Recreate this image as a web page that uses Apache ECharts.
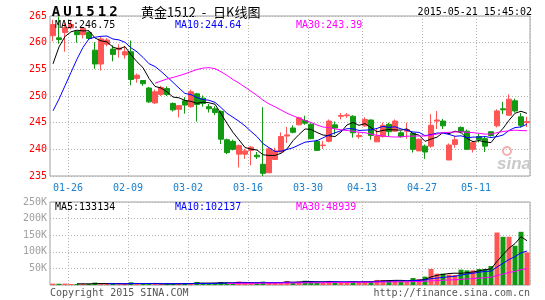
<!DOCTYPE html>
<html><head><meta charset="utf-8">
<script src="https://cdn.jsdelivr.net/npm/echarts@6/dist/echarts.min.js"></script>
<style>html,body{margin:0;padding:0;background:#fff}#c{width:545px;height:300px}</style>
</head><body><div id="c"></div>
<script>
// ---- data ----
const dates = ['01-21','01-22','01-23','01-26','01-27','01-28','01-29','01-30',
 '02-02','02-03','02-04','02-05','02-06','02-09','02-10','02-11','02-12','02-13','02-16','02-17','02-25','02-26','02-27',
 '03-02','03-03','03-04','03-05','03-06','03-09','03-10','03-11','03-12','03-13','03-16','03-17','03-18','03-19','03-20',
 '03-23','03-24','03-25','03-26','03-27','03-30','03-31',
 '04-01','04-02','04-03','04-07','04-08','04-09','04-10','04-13','04-14','04-15','04-16','04-17','04-20','04-21','04-22','04-23','04-24',
 '04-27','04-28','04-29','04-30','05-04','05-05','05-06','05-07','05-08','05-11','05-12','05-13','05-14','05-15','05-18','05-19','05-20','05-21'];
const tickLabels = ['01-26','02-09','03-02','03-16','03-30','04-13','04-27','05-11'];

const opens  = [261.3,260.9,261.9,262.8,262.1,261.5,261.9,258.6,256.0,259.7,
                258.8,258.7,257.7,258.3,253.3,252.9,251.5,248.7,250.3,251.4,
                248.6,247.5,249.1,248.0,250.4,249.6,248.0,247.6,247.1,241.8,
                241.5,239.1,239.1,239.8,238.9,237.2,235.6,238.1,239.5,242.5,
                244.0,244.6,245.4,244.7,241.5,240.7,241.5,244.6,246.2,246.3,
                246.2,242.4,244.4,245.5,241.4,242.4,244.7,243.4,243.1,243.4,
                243.0,239.7,240.6,240.6,245.3,245.3,238.0,240.9,244.1,243.4,
                240.0,242.4,242.0,243.3,244.4,247.6,246.4,249.1,246.1,245.0];
const closes = [263.4,260.6,262.8,263.4,261.5,262.7,260.8,256.0,260.7,260.5,
                257.8,259.0,258.3,253.1,253.9,252.3,248.9,250.8,251.6,250.3,
                247.4,248.2,248.3,250.8,248.4,248.6,247.6,246.9,241.9,239.4,
                240.0,240.7,239.7,240.4,238.6,235.5,240.1,239.7,242.4,242.7,
                243.2,245.9,244.9,242.0,239.8,240.8,245.3,244.0,246.35,246.45,
                243.1,242.6,245.6,242.6,242.5,244.5,243.3,245.3,242.4,243.7,
                240.0,241.9,239.5,244.5,245.5,244.4,240.8,241.8,243.3,240.0,
                241.3,241.8,240.6,242.6,247.2,247.4,249.4,247.2,244.5,245.2];
const lows   = [260.3,259.8,258.3,262.5,260.0,260.8,260.6,255.1,254.8,259.3,
                256.5,257.2,257.0,252.0,252.5,251.9,248.7,248.5,250.0,250.0,
                247.1,246.0,246.7,247.8,245.2,248.0,246.9,246.4,241.0,239.1,
                239.8,236.6,238.2,237.0,238.2,235.0,235.6,238.0,239.5,241.2,
                243.0,244.5,244.6,241.9,239.8,240.1,241.3,242.8,245.6,245.9,
                242.2,242.0,244.2,241.8,241.4,242.2,242.4,243.4,242.2,242.0,
                239.4,239.7,238.2,240.3,243.8,243.8,238.0,240.3,243.0,240.0,
                239.4,241.3,239.5,242.4,244.1,246.6,246.3,246.9,244.1,244.2];
const highs  = [264.3,264.9,263.7,264.1,262.2,262.9,262.1,260.1,261.2,260.9,
                259.5,259.7,259.4,260.4,254.2,253.0,251.7,251.2,251.9,251.8,
                248.8,248.3,249.8,251.2,250.6,250.1,248.5,248.1,247.3,242.0,
                241.8,240.9,240.1,240.6,239.5,247.9,240.3,240.3,243.2,244.2,
                244.5,246.1,246.3,244.9,241.8,241.6,245.6,245.2,246.8,246.8,
                246.4,243.2,246.0,245.6,244.0,245.0,245.0,245.6,243.4,245.0,
                243.1,242.0,240.9,246.6,247.2,245.7,241.1,242.5,244.3,243.7,
                241.6,242.9,242.4,243.4,247.5,248.9,250.3,249.5,246.8,246.1];
// closes of the 12 sessions before the first visible one (inferred from where the MA lines start)
const histCloses = [239.5,238.5,238.7,238.6,237.8,238.4,236.5,240.7,244.8,253.0,259.0,260.0];

const volumes = [4100,3900,4200,3200,3100,3300,3400,7200,4300,3200,
                 3900,3300,3100,8100,4200,3300,4100,3800,3200,3100,
                 3900,4200,5100,4900,9200,5200,4100,6100,9100,7000,
                 6200,10200,6100,6900,5200,10100,6800,6100,9000,12100,
                 7100,10200,12900,10100,8200,6100,12300,9200,7100,9600,
                 10100,9200,11100,11200,15200,15100,14100,14200,11100,9300,
                 21100,17200,25300,48200,34100,34300,31200,30100,46200,44100,
                 44200,48100,48300,57200,158100,145200,145300,118100,160200,98200];

const maLabels    = ['MA5:246.75','MA10:244.64','MA30:243.39'];
const volMaLabels = ['MA5:133134','MA10:102137','MA30:48939'];
const maColors = ['#000000','#0000ff','#ff00ff'];
const maPeriods = [5,10,30];

// ---- derived ----
function movingAvg(arr, n, skip){
  const out=[];
  for(let i=skip;i<arr.length;i++){
    if(i<n-1){out.push('-');continue;}
    let s=0; for(let j=i-n+1;j<=i;j++) s+=arr[j];
    out.push(+(s/n).toFixed(3));
  }
  return out;
}
const allCloses = histCloses.concat(closes);
const priceMA = maPeriods.map(n=>movingAvg(allCloses,n,histCloses.length));
const volMA = maPeriods.map(n=>movingAvg(volumes,n,0));
const kData = opens.map((o,i)=>[o,closes[i],lows[i],highs[i]]);
const UP='#ff5555', DOWN='#119911';
const mono='DejaVu Sans Mono';
const isTick=(i,v)=>tickLabels.indexOf(v)>=0;
const dotted={color:'#b4b4b4',type:[1,2],width:1};

const graphics=[];
'AU1512'.split('').forEach((ch,k)=>graphics.push({type:'text',x:56+11.5*k,y:12,
  style:{text:ch,font:'bold 14px '+mono,fill:'#000',align:'center',verticalAlign:'middle'}}));
graphics.push({type:'text',x:141,y:12,style:{text:'黄金1512',font:'13px "Noto Sans CJK SC"',fill:'#000',verticalAlign:'middle'}});
graphics.push({type:'text',x:204,y:12,style:{text:'-',font:'13px "Noto Sans CJK SC"',fill:'#000',align:'center',verticalAlign:'middle'}});
graphics.push({type:'text',x:213,y:12,style:{text:'日K线图',font:'13px "Noto Sans CJK SC"',fill:'#000',verticalAlign:'middle'}});
graphics.push({type:'text',x:532,y:12,style:{text:'2015-05-21 15:45:02',font:'10px '+mono,fill:'#000',align:'right',verticalAlign:'middle'}});
const legendX=[55,175,296];
maLabels.forEach((t,k)=>graphics.push({type:'text',x:legendX[k],y:25,z:100,style:{text:t,font:'10px '+mono,fill:maColors[k],verticalAlign:'middle'}}));
volMaLabels.forEach((t,k)=>graphics.push({type:'text',x:legendX[k],y:207,z:100,style:{text:t,font:'10px '+mono,fill:maColors[k],verticalAlign:'middle'}}));
graphics.push({type:'text',x:50,y:293,style:{text:'Copyright 2015 SINA.COM',font:'10px '+mono,fill:'#555',verticalAlign:'middle'}});
graphics.push({type:'text',x:530,y:293,style:{text:'http://finance.sina.com.cn',font:'10px '+mono,fill:'#555',align:'right',verticalAlign:'middle'}});
graphics.push({type:'circle',shape:{cx:507,cy:151,r:4},style:{fill:'none',stroke:'#f3b0b0',lineWidth:2}});
graphics.push({type:'text',x:514,y:164,style:{text:'sina',font:'italic bold 17px "Liberation Sans"',fill:'#c9c9c9',align:'center',verticalAlign:'middle'}});

const chart = echarts.init(document.getElementById('c'),null,{renderer:'canvas'});
chart.setOption({
  animation:false,
  grid:[{left:50,right:15,top:16,height:160,show:true,borderColor:'#a0a0a0',borderWidth:1},
        {left:50,right:15,top:202,height:83,show:true,borderColor:'#a0a0a0',borderWidth:1}],
  xAxis:[
    {type:'category',data:dates,gridIndex:0,boundaryGap:true,axisLine:{show:false},axisTick:{show:false},
     axisLabel:{interval:isTick,color:'#1a80d0',fontFamily:mono,fontSize:10,margin:7,padding:[0,6,0,0]},
     splitLine:{show:true,interval:isTick,lineStyle:dotted}},
    {type:'category',data:dates,gridIndex:1,boundaryGap:true,axisLine:{show:false},axisTick:{show:false},
     axisLabel:{show:false},splitLine:{show:true,interval:isTick,lineStyle:dotted}}
  ],
  yAxis:[
    {type:'value',gridIndex:0,min:235,max:265,interval:5,axisLine:{show:false},axisTick:{show:false},
     axisLabel:{color:'#ff0000',fontFamily:mono,fontSize:10,margin:3},splitLine:{lineStyle:dotted}},
    {type:'value',gridIndex:1,min:0,max:250000,interval:50000,axisLine:{show:false},axisTick:{show:false},
     axisLabel:{color:'#a0a0a0',fontFamily:mono,fontSize:10,margin:3,formatter:v=>v?(v/1000)+'K':''},splitLine:{lineStyle:dotted}}
  ],
  series:[
    {type:'candlestick',xAxisIndex:0,yAxisIndex:0,data:kData,barWidth:5,
     itemStyle:{color:UP,color0:DOWN,borderColor:UP,borderColor0:DOWN,borderWidth:1}},
    ...priceMA.map((d,k)=>({type:'line',xAxisIndex:0,yAxisIndex:0,data:d,symbol:'none',smooth:false,
      lineStyle:{color:maColors[k],width:1},z:5})),
    {type:'bar',xAxisIndex:1,yAxisIndex:1,data:volumes,barWidth:5,
     itemStyle:{color:p=>closes[p.dataIndex]>=opens[p.dataIndex]?UP:DOWN}},
    ...volMA.map((d,k)=>({type:'line',xAxisIndex:1,yAxisIndex:1,data:d,symbol:'none',smooth:false,
      lineStyle:{color:maColors[k],width:1},z:5}))
  ],
  graphic:graphics
});
</script></body></html>
